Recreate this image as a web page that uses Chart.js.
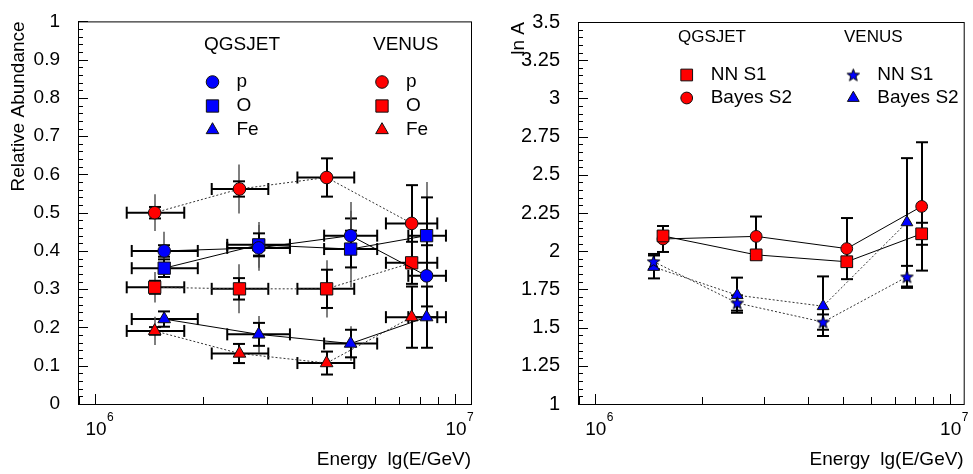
<!DOCTYPE html>
<html lang="en">
<head>
<meta charset="UTF-8">
<title>Relative abundance and ln A vs energy</title>
<script src="https://cdn.jsdelivr.net/npm/chart.js"></script>
<style>
  * { margin: 0; padding: 0; box-sizing: border-box; }
  body { width: 973px; height: 474px; background: #fff; overflow: hidden; position: relative; }
  #left { position: absolute; left: 0; top: 0; }
  #right { position: absolute; left: 490px; top: 0; }
</style>
</head>
<body>
<canvas id="left" width="490" height="474"></canvas>
<canvas id="right" width="483" height="474"></canvas>

<script>
  // ---- data: energies (GeV) and bin edges ----
  const qgsEnergy = [1.557e6, 2.85e6, 5.13e6, 8.34e6];
  const qgsBinLo  = [1.265e6, 2.33e6, 4.33e6, 7.42e6];
  const qgsBinHi  = [1.93e6, 3.48e6, 6.08e6, 9.44e6];
  const venEnergy = [1.465e6, 2.52e6, 4.40e6, 7.58e6];
  const venBinLo  = [1.225e6, 2.11e6, 3.65e6, 6.43e6];
  const venBinHi  = [1.77e6, 3.03e6, 5.25e6, 8.93e6];

  // relative abundance, QGSJET
  const qgsP     = [0.400, 0.408, 0.440, 0.335];
  const qgsPErr  = [0.015, 0.020, 0.045, 0.080];
  const qgsPSys  = [0.050, 0.060, 0.088, 0.080];
  const qgsO     = [0.355, 0.416, 0.405, 0.440];
  const qgsOErr  = [0.023, 0.030, 0.048, 0.100];
  const qgsOSys  = [0.023, 0.060, 0.100, 0.140];
  const qgsFe    = [0.222, 0.182, 0.158, 0.227];
  const qgsFeErr = [0.020, 0.030, 0.036, 0.080];
  const qgsFeSys = [0.020, 0.048, 0.045, 0.080];

  // relative abundance, VENUS
  const venP     = [0.500, 0.562, 0.592, 0.472];
  const venPErr  = [0.015, 0.020, 0.050, 0.100];
  const venPSys  = [0.048, 0.064, 0.050, 0.100];
  const venO     = [0.305, 0.301, 0.301, 0.369];
  const venOErr  = [0.017, 0.028, 0.050, 0.055];
  const venOSys  = [0.040, 0.064, 0.075, 0.055];
  const venFe    = [0.191, 0.132, 0.107, 0.227];
  const venFeErr = [0.010, 0.025, 0.030, 0.080];
  const venFeSys = [0.037, 0.025, 0.030, 0.080];

  // mean log mass
  const lnaQgsNN     = [2.100, 1.976, 1.931, 2.114];
  const lnaQgsNNErr  = [0.030, 0.030, 0.030, 0.072];
  const lnaQgsBay    = [2.080, 2.097, 2.017, 2.293];
  const lnaQgsBayErr = [0.085, 0.130, 0.200, 0.420];
  const lnaVenNN     = [1.932, 1.661, 1.536, 1.832];
  const lnaVenNNErr  = [0.050, 0.050, 0.050, 0.072];
  const lnaVenBay    = [1.897, 1.712, 1.640, 2.189];
  const lnaVenBayErr = [0.075, 0.115, 0.195, 0.420];

  const abundanceTicks = [0, 0.1, 0.2, 0.3, 0.4, 0.5, 0.6, 0.7, 0.8, 0.9, 1];
  const lnaTicks = [1, 1.25, 1.5, 1.75, 2, 2.25, 2.5, 2.75, 3, 3.25, 3.5];
  const decades = [1e6, 1e7];

  const FONT = "'Liberation Sans', Arial, sans-serif";
  const RED = '#ff0000', BLUE = '#0000ff';

  // filled 5-point star used as point style
  function starImage(size, fill) {
    const c = document.createElement('canvas');
    c.width = c.height = size;
    const g = c.getContext('2d');
    const R = size / 2 - 1, r = R * 0.42, cx = size / 2, cy = size / 2 + 0.5;
    g.beginPath();
    for (let k = 0; k < 10; k++) {
      const a = k * Math.PI / 5, rr = k % 2 ? r : R;
      g.lineTo(cx + rr * Math.sin(a), cy - rr * Math.cos(a));
    }
    g.closePath();
    g.fillStyle = fill; g.fill();
    g.strokeStyle = '#000'; g.lineWidth = 1; g.stroke();
    return c;
  }
  const star = starImage(15, BLUE);

  function pts(xs, ys) { return xs.map((e, i) => ({ x: e, y: ys[i] })); }

  function series(label, xs, ys, color, style, radius, solid, extra) {
    return Object.assign({
      label: label,
      data: pts(xs, ys),
      showLine: true,
      borderColor: solid ? '#000' : '#333',
      borderWidth: 1,
      borderDash: solid ? [] : [2, 2],
      pointStyle: style,
      pointRadius: radius,
      pointBackgroundColor: color,
      pointBorderColor: '#111',
      pointBorderWidth: 1
    }, extra);
  }

  // marker for the hand-placed legend block
  function drawMarker(ctx, style, x, y, r, fill) {
    if (typeof style !== 'string') {
      ctx.drawImage(style, x - style.width / 2, y - style.height / 2);
      return;
    }
    ctx.beginPath();
    if (style === 'circle') ctx.arc(x, y, r, 0, Math.PI * 2);
    else if (style === 'rect') { const s = r * Math.SQRT1_2; ctx.rect(x - s, y - s, 2 * s, 2 * s); }
    else {
      for (let k = 0; k < 3; k++) {
        const a = k * 2 * Math.PI / 3;
        ctx.lineTo(x + Math.sin(a) * r, y - Math.cos(a) * r);
      }
    }
    ctx.closePath();
    ctx.fillStyle = fill; ctx.fill();
    ctx.strokeStyle = '#111'; ctx.lineWidth = 1; ctx.stroke();
  }

  function line(ctx, x1, y1, x2, y2) {
    ctx.beginPath(); ctx.moveTo(x1, y1); ctx.lineTo(x2, y2); ctx.stroke();
  }

  // error bars: thin outer bar, thick bar with caps, horizontal bin bar
  const errorBars = {
    id: 'errorBars',
    beforeDatasetsDraw(chart) {
      const { ctx, scales: { x, y } } = chart;
      ctx.save();
      chart.data.datasets.forEach(ds => {
        ds.data.forEach((p, i) => {
          const px = Math.round(x.getPixelForValue(p.x)), py = y.getPixelForValue(p.y);
          if (ds.ySys) {
            ctx.strokeStyle = '#555'; ctx.lineWidth = 1.5;
            line(ctx, px, y.getPixelForValue(p.y + ds.ySys[i]), px, y.getPixelForValue(p.y - ds.ySys[i]));
          }
          ctx.strokeStyle = '#000'; ctx.lineWidth = 2;
          if (ds.yErr) {
            const t = y.getPixelForValue(p.y + ds.yErr[i]), b = y.getPixelForValue(p.y - ds.yErr[i]);
            line(ctx, px, t, px, b);
            line(ctx, px - 6, t, px + 6, t);
            line(ctx, px - 6, b, px + 6, b);
          }
          if (ds.xLo) {
            const l = x.getPixelForValue(ds.xLo[i]), r = x.getPixelForValue(ds.xHi[i]);
            line(ctx, l, py, r, py);
            line(ctx, l, py - 6, l, py + 6);
            line(ctx, r, py - 6, r, py + 6);
          }
        });
      });
      ctx.restore();
    }
  };

  // ROOT-like frame, inward ticks and 10^n labels
  const frame = {
    id: 'frame',
    beforeDatasetsDraw(chart, args, opts) {
      const { ctx, chartArea: a, scales: { x, y } } = chart;
      ctx.save();
      ctx.strokeStyle = '#000';
      ctx.lineWidth = 1;
      ctx.strokeRect(a.left + 0.5, a.top + 0.5, a.right - a.left, a.bottom - a.top);
      const n = Math.round((y.max - y.min) / opts.minor);
      for (let i = 0; i <= n; i++) {
        const py = Math.round(y.getPixelForValue(y.min + i * opts.minor)) + 0.5;
        line(ctx, a.left, py, a.left + (i % 5 === 0 ? 10 : 5), py);
      }
      for (let e = 5; e <= 7; e++) {
        for (let k = 1; k <= 9; k++) {
          const v = k * Math.pow(10, e);
          if (v < x.min || v > x.max) continue;
          const px = Math.round(x.getPixelForValue(v)) + 0.5;
          line(ctx, px, a.bottom, px, a.bottom - (k === 1 ? 10 : 7));
        }
      }
      ctx.fillStyle = '#000';
      decades.forEach(v => {
        const px = x.getPixelForValue(v);
        ctx.font = '19px ' + FONT;
        ctx.textAlign = 'center';
        ctx.textBaseline = 'alphabetic';
        ctx.fillText('10', px + 1, a.bottom + 31);
        ctx.font = '12px ' + FONT;
        ctx.textAlign = 'left';
        ctx.fillText(String(Math.round(Math.log10(v))), px + 12, a.bottom + 17);
      });
      ctx.restore();
    }
  };

  // two-column legend with model headers
  const legendBlock = {
    id: 'legendBlock',
    afterDraw(chart, args, opts) {
      const ctx = chart.ctx;
      ctx.save();
      ctx.fillStyle = '#000';
      ctx.textAlign = 'left';
      ctx.textBaseline = 'middle';
      ctx.font = opts.headSize + 'px ' + FONT;
      opts.heads.forEach(h => ctx.fillText(h.text, h.x, h.y));
      opts.items.forEach(it => {
        const ds = chart.data.datasets[it.ds];
        drawMarker(ctx, ds.pointStyle, it.x, it.y, ds.pointRadius, ds.pointBackgroundColor);
        ctx.fillStyle = '#000';
        ctx.font = opts.itemSize + 'px ' + FONT;
        ctx.fillText(ds.label, it.x + 24, it.y);
      });
      ctx.restore();
    }
  };

  function axisOptions(yMin, yMax, yTicks, yTitle, yWidth, tickSize, yTitlePad, xMax) {
    return {
      x: {
        type: 'logarithmic', bounds: 'data', min: 8.97e5, max: xMax,
        grid: { display: false }, border: { display: false }, ticks: { display: false },
        title: {
          display: true, text: 'Energy  lg(E/GeV)', align: 'end', color: '#000',
          font: { family: FONT, size: 19, lineHeight: 1.2 }, padding: { top: 0, bottom: 3 }
        },
        afterFit: s => { s.height = 70; }
      },
      y: {
        min: yMin, max: yMax,
        grid: { display: false }, border: { display: false },
        afterBuildTicks: s => { s.ticks = yTicks.map(v => ({ value: v })); },
        ticks: {
          padding: 10, color: '#000', font: { family: FONT, size: tickSize, lineHeight: 1.2 },
          callback: v => String(+Number(v).toFixed(2))
        },
        title: {
          display: true, text: yTitle, align: 'end', color: '#000',
          font: { family: FONT, size: 19, lineHeight: 1.2 }, padding: { top: yTitlePad, bottom: 0 }
        },
        afterFit: s => { s.width = yWidth; }
      }
    };
  }

  const common = { responsive: false, animation: false, events: [] };

  new Chart(document.getElementById('left'), {
    type: 'scatter',
    data: {
      datasets: [
        series('p', qgsEnergy, qgsP, BLUE, 'circle', 6.3, true, { yErr: qgsPErr, ySys: qgsPSys, xLo: qgsBinLo, xHi: qgsBinHi }),
        series('O', qgsEnergy, qgsO, BLUE, 'rect', 8.7, true, { yErr: qgsOErr, ySys: qgsOSys, xLo: qgsBinLo, xHi: qgsBinHi }),
        series('Fe', qgsEnergy, qgsFe, BLUE, 'triangle', 7.3, true, { yErr: qgsFeErr, ySys: qgsFeSys, xLo: qgsBinLo, xHi: qgsBinHi }),
        series('p', venEnergy, venP, RED, 'circle', 6.3, false, { yErr: venPErr, ySys: venPSys, xLo: venBinLo, xHi: venBinHi }),
        series('O', venEnergy, venO, RED, 'rect', 8.7, false, { yErr: venOErr, ySys: venOSys, xLo: venBinLo, xHi: venBinHi }),
        series('Fe', venEnergy, venFe, RED, 'triangle', 7.3, false, { yErr: venFeErr, ySys: venFeSys, xLo: venBinLo, xHi: venBinHi })
      ]
    },
    options: Object.assign({}, common, {
      layout: { padding: { top: 12, right: 19, left: 0, bottom: 0 } },
      plugins: {
        legend: { display: false }, tooltip: { enabled: false },
        frame: { minor: 0.02 },
        legendBlock: {
          headSize: 19, itemSize: 19,
          heads: [{ text: 'QGSJET', x: 204, y: 45 }, { text: 'VENUS', x: 373, y: 45 }],
          items: [
            { ds: 0, x: 212.5, y: 82 }, { ds: 1, x: 212.5, y: 106 }, { ds: 2, x: 212.5, y: 130 },
            { ds: 3, x: 382, y: 82 }, { ds: 4, x: 382, y: 106 }, { ds: 5, x: 382, y: 130 }
          ]
        }
      },
      scales: axisOptions(0, 1, abundanceTicks, 'Relative Abundance', 78, 19, 7, 1.108e7)
    }),
    plugins: [frame, errorBars, legendBlock]
  });

  new Chart(document.getElementById('right'), {
    type: 'scatter',
    data: {
      datasets: [
        series('NN S1', qgsEnergy, lnaQgsNN, RED, 'rect', 8.3, true, { yErr: lnaQgsNNErr }),
        series('Bayes S2', qgsEnergy, lnaQgsBay, RED, 'circle', 5.9, true, { yErr: lnaQgsBayErr }),
        series('NN S1', venEnergy, lnaVenNN, BLUE, star, 6, false, { yErr: lnaVenNNErr }),
        series('Bayes S2', venEnergy, lnaVenBay, BLUE, 'triangle', 6.8, false, { yErr: lnaVenBayErr })
      ]
    },
    options: Object.assign({}, common, {
      layout: { padding: { top: 12, right: 3, left: 0, bottom: 0 } },
      plugins: {
        legend: { display: false }, tooltip: { enabled: false },
        frame: { minor: 0.05 },
        legendBlock: {
          headSize: 17, itemSize: 19,
          heads: [{ text: 'QGSJET', x: 188, y: 37 }, { text: 'VENUS', x: 354, y: 37 }],
          items: [
            { ds: 0, x: 196.7, y: 75 }, { ds: 1, x: 196.7, y: 98 },
            { ds: 2, x: 363.3, y: 75 }, { ds: 3, x: 363.3, y: 98 }
          ]
        }
      },
      scales: axisOptions(1, 3.5, lnaTicks, 'ln A', 88, 20, 17, 1.0955e7)
    }),
    plugins: [frame, errorBars, legendBlock]
  });
</script>
</body>
</html>
